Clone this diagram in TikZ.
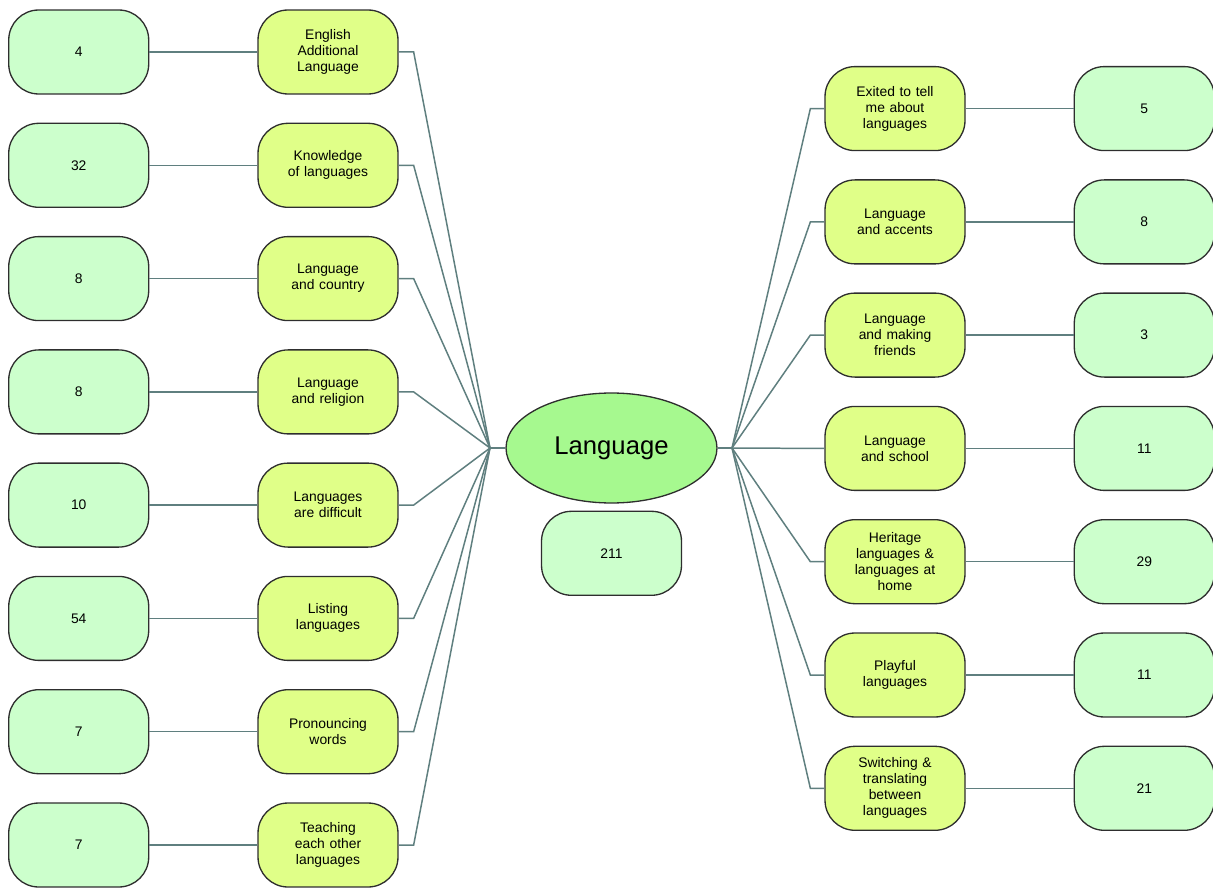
\documentclass[tikz,border=0pt]{standalone}
\usepackage{fontspec}
\setmainfont{Liberation Sans}
\usetikzlibrary{positioning,shapes}

\definecolor{countfill}{HTML}{CCFFCC}
\definecolor{topicfill}{HTML}{E0FF88}
\definecolor{langfill}{HTML}{A6F98F}
\definecolor{linkgray}{HTML}{5F7F7F}
\definecolor{edgegray}{HTML}{2E2E2E}

\tikzset{
    topic/.style={draw=edgegray,line width=0.75pt,rectangle,rounded corners=0.6cm,fill=topicfill,
        minimum width=2.8cm,minimum height=1.68cm,text width=2.4cm,inner sep=0pt,align=center,
        font=\fontsize{7.9}{9.1}\selectfont},
    count/.style={topic,fill=countfill},
    link/.style={draw=linkgray,line width=0.85pt}
}

\begin{document}
\begin{tikzpicture}[x=0.02cm,y=-0.02cm,node distance=2.16cm]
    \useasboundingbox (0,0) rectangle (1213,888);

    % centre
    \node[draw=edgegray,line width=0.75pt,ellipse,fill=langfill,minimum width=4.22cm,minimum height=2.2cm,
        inner sep=0pt,font=\fontsize{14.6}{16}\selectfont] (lang) at (611.5,448) {Language};
    \node[count,below=0.14cm of lang] (total) {211};
    \coordinate (hubL) at (490,448);
    \coordinate (hubR) at (732,448);

    % left side
    \node[topic] (eal) at (328,52) {English\\Additional\\Language};
    \node[topic] (knowledge) at (328,165.3) {Knowledge\\of languages};
    \node[topic] (country) at (328,278.6) {Language\\and country};
    \node[topic] (religion) at (328,391.9) {Language\\and religion};
    \node[topic] (difficult) at (328,505.1) {Languages\\are difficult};
    \node[topic] (listing) at (328,618.4) {Listing\\languages};
    \node[topic] (pronounce) at (328,731.7) {Pronouncing\\words};
    \node[topic] (teaching) at (328,845) {Teaching\\each other\\languages};

    \node[count,left=of eal] (nEal) {4};
    \node[count,left=of knowledge] (nKnowledge) {32};
    \node[count,left=of country] (nCountry) {8};
    \node[count,left=of religion] (nReligion) {8};
    \node[count,left=of difficult] (nDifficult) {10};
    \node[count,left=of listing] (nListing) {54};
    \node[count,left=of pronounce] (nPronounce) {7};
    \node[count,left=of teaching] (nTeaching) {7};

    % right side
    \node[topic] (excited) at (895,108.6) {Exited to tell\\me about\\languages};
    \node[topic] (accents) at (895,221.9) {Language\\and accents};
    \node[topic] (friends) at (895,335.1) {Language\\and making\\friends};
    \node[topic] (school) at (895,448.4) {Language\\and school};
    \node[topic] (heritage) at (895,561.7) {Heritage\\languages \&\\languages at\\home};
    \node[topic] (playful) at (895,675) {Playful\\languages};
    \node[topic] (switching) at (895,788.3) {Switching \&\\translating\\between\\languages};

    \node[count,right=of excited] (nExcited) {5};
    \node[count,right=of accents] (nAccents) {8};
    \node[count,right=of friends] (nFriends) {3};
    \node[count,right=of school] (nSchool) {11};
    \node[count,right=of heritage] (nHeritage) {29};
    \node[count,right=of playful] (nPlayful) {11};
    \node[count,right=of switching] (nSwitching) {21};

    % connectors
    \draw[link] (hubL) -- (lang.west);
    \draw[link] (lang.east) -- (hubR);

    \draw[link] (eal.east) -- ++(15,0) -- (hubL);
    \draw[link] (knowledge.east) -- ++(15,0) -- (hubL);
    \draw[link] (country.east) -- ++(15,0) -- (hubL);
    \draw[link] (religion.east) -- ++(15,0) -- (hubL);
    \draw[link] (difficult.east) -- ++(15,0) -- (hubL);
    \draw[link] (listing.east) -- ++(15,0) -- (hubL);
    \draw[link] (pronounce.east) -- ++(15,0) -- (hubL);
    \draw[link] (teaching.east) -- ++(15,0) -- (hubL);

    \draw[link] (excited.west) -- ++(-14,0) -- (hubR);
    \draw[link] (accents.west) -- ++(-14,0) -- (hubR);
    \draw[link] (friends.west) -- ++(-14,0) -- (hubR);
    \draw[link] (school.west) -- ++(-14,0) -- (hubR);
    \draw[link] (heritage.west) -- ++(-14,0) -- (hubR);
    \draw[link] (playful.west) -- ++(-14,0) -- (hubR);
    \draw[link] (switching.west) -- ++(-14,0) -- (hubR);

    \draw[link] (eal) -- (nEal);
    \draw[link] (knowledge) -- (nKnowledge);
    \draw[link] (country) -- (nCountry);
    \draw[link] (religion) -- (nReligion);
    \draw[link] (difficult) -- (nDifficult);
    \draw[link] (listing) -- (nListing);
    \draw[link] (pronounce) -- (nPronounce);
    \draw[link] (teaching) -- (nTeaching);

    \draw[link] (excited) -- (nExcited);
    \draw[link] (accents) -- (nAccents);
    \draw[link] (friends) -- (nFriends);
    \draw[link] (school) -- (nSchool);
    \draw[link] (heritage) -- (nHeritage);
    \draw[link] (playful) -- (nPlayful);
    \draw[link] (switching) -- (nSwitching);
\end{tikzpicture}
\end{document}
